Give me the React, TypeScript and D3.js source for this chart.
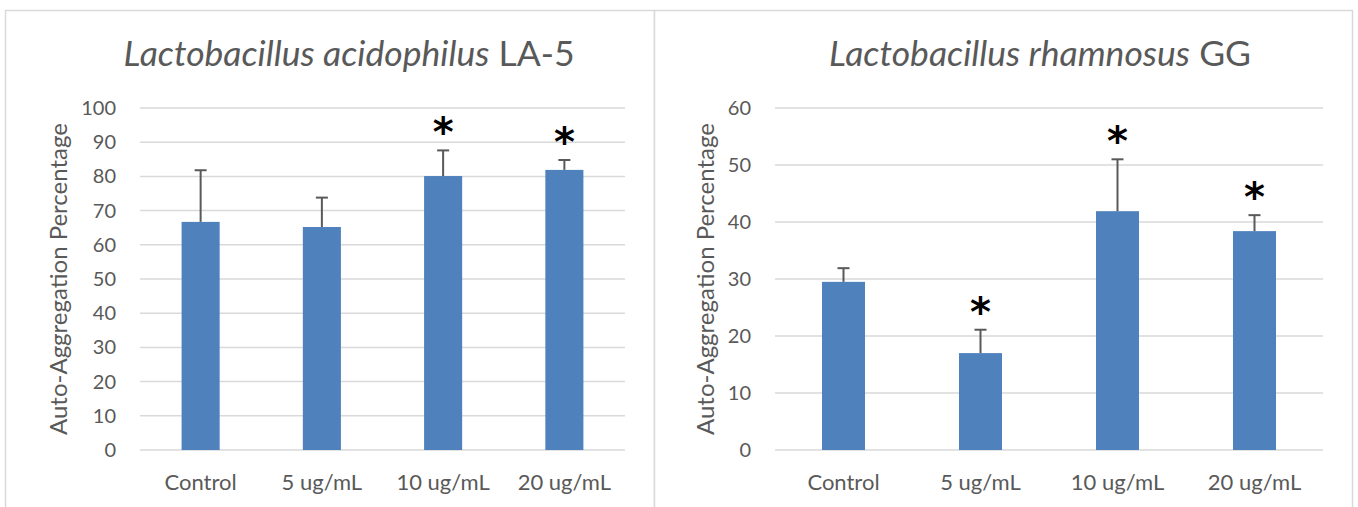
import React from 'react'
import * as d3 from 'd3'

// categories shared by both panels
const categories = ['Control', '5 ug/mL', '10 ug/mL', '20 ug/mL']

// L. acidophilus LA-5
const la5Means = [66.7, 65.2, 80.1, 81.9]
const la5Sd = [15.1, 8.6, 7.5, 2.9]
const la5Stars = [false, false, true, true]
const la5Ticks = [0, 10, 20, 30, 40, 50, 60, 70, 80, 90, 100]

// L. rhamnosus GG
const lggMeans = [29.5, 17.0, 41.9, 38.4]
const lggSd = [2.4, 4.1, 9.1, 2.8]
const lggStars = [false, true, true, true]
const lggTicks = [0, 10, 20, 30, 40, 50, 60]

const FONT = 'Lato, "Open Sans", sans-serif'
const TEXT = '#595959'
const GRID = '#d9d9d9'
const BAR = '#4f81bd'

function Panel({ box, plot, titleItalic, titleRest, titleX, means, sd, stars, ticks, labelX }) {
  const x = d3.scaleBand().domain(categories).range([plot.left, plot.right]).paddingInner(0.686).paddingOuter(0.343)
  const y = d3.scaleLinear().domain([0, d3.max(ticks)]).range([plot.bottom, plot.top])
  const cap = 6
  const midY = (plot.top + plot.bottom) / 2

  return (
    <g>
      <rect x={box.x + 0.5} y={box.y + 0.5} width={box.w} height={box.h} fill="#fff" stroke={GRID} strokeWidth={1.5} />
      <text x={titleX} y={66} textAnchor="middle" fontSize={35.5} fill={TEXT} fontFamily={FONT}>
        <tspan fontStyle="italic">{titleItalic}</tspan>
        <tspan>{' ' + titleRest}</tspan>
      </text>
      {ticks.map(t => (
        <g key={t}>
          <line x1={plot.left} x2={plot.right} y1={y(t)} y2={y(t)} stroke={GRID} strokeWidth={1.5} />
          <text x={plot.left - 24} y={y(t)} dy="0.35em" textAnchor="end" fontSize={20} fill={TEXT} fontFamily={FONT}>
            {t}
          </text>
        </g>
      ))}
      <text
        transform={`translate(${labelX},${midY}) rotate(-90)`}
        textAnchor="middle"
        fontSize={24}
        fill={TEXT}
        fontFamily={FONT}
      >
        Auto-Aggregation Percentage
      </text>
      {categories.map((c, i) => {
        const bx = x(c)
        const cx = bx + x.bandwidth() / 2
        const top = y(means[i] + sd[i])
        return (
          <g key={c}>
            <rect x={bx} y={y(means[i])} width={x.bandwidth()} height={plot.bottom - y(means[i])} fill={BAR} />
            <line x1={cx} x2={cx} y1={y(means[i])} y2={top} stroke={TEXT} strokeWidth={2} />
            <line x1={cx - cap} x2={cx + cap} y1={top} y2={top} stroke={TEXT} strokeWidth={2} />
            {stars[i] && (
              <text x={cx} y={top - 29} dy="0.62em" textAnchor="middle" fontSize={40} fontWeight="bold" fill="#000" fontFamily='"DejaVu Sans", sans-serif'>
                *
              </text>
            )}
            <text x={cx} y={490} textAnchor="middle" fontSize={22} fill={TEXT} fontFamily={FONT}>
              {c}
            </text>
          </g>
        )
      })}
    </g>
  )
}

export default function App() {
  return (
    <svg width={1358} height={507} style={{ position: 'absolute', left: 0, top: 0, background: '#fff' }}>
      <Panel
        box={{ x: 5, y: 10, w: 649, h: 520 }}
        plot={{ left: 140, right: 625, top: 108, bottom: 450 }}
        titleItalic="Lactobacillus acidophilus"
        titleRest="LA-5"
        titleX={349}
        means={la5Means}
        sd={la5Sd}
        stars={la5Stars}
        ticks={la5Ticks}
        labelX={67}
      />
      <Panel
        box={{ x: 654, y: 10, w: 698, h: 520 }}
        plot={{ left: 775, right: 1323, top: 108, bottom: 450 }}
        titleItalic="Lactobacillus rhamnosus"
        titleRest="GG"
        titleX={1040}
        means={lggMeans}
        sd={lggSd}
        stars={lggStars}
        ticks={lggTicks}
        labelX={714}
      />
    </svg>
  )
}
